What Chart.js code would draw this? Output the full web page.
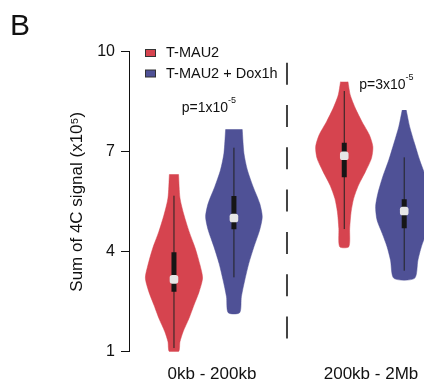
<!DOCTYPE html>
<html>
<head>
<meta charset="utf-8">
<script src="https://cdn.jsdelivr.net/npm/chart.js@4"></script>
<style>
  html, body { margin: 0; padding: 0; background: #fff; }
</style>
</head>
<body>
<canvas id="chart1" width="424" height="387"></canvas>
<script>
// ---------------- data ----------------
var categories = ['0kb - 200kb', '200kb - 2Mb'];
var seriesNames = ['T-MAU2', 'T-MAU2 + Dox1h'];
var yTicks = [1, 4, 7, 10];

// violin outlines: levels (x10^5) and relative density width at each level
var ctrlLevels0 = [6.32, 5.61, 5.10, 4.60, 4.11, 3.60, 3.21, 2.80, 2.40, 2.01, 1.60, 1.30, 1.00];
var ctrlDensity0 = [0.16, 0.21, 0.35, 0.53, 0.74, 0.91, 1.00, 0.88, 0.70, 0.53, 0.32, 0.21, 0.16];
var doxLevels0 = [7.67, 6.95, 6.45, 5.95, 5.45, 5.05, 4.65, 4.15, 3.65, 3.15, 2.65, 2.17];
var doxDensity0 = [0.29, 0.35, 0.47, 0.67, 0.90, 0.99, 0.90, 0.70, 0.52, 0.38, 0.26, 0.20];
var ctrlLevels1 = [9.10, 8.70, 8.30, 7.90, 7.50, 7.15, 6.80, 6.40, 6.00, 5.60, 5.20, 4.70, 4.15];
var ctrlDensity1 = [0.13, 0.21, 0.39, 0.62, 0.88, 1.00, 0.95, 0.74, 0.50, 0.33, 0.24, 0.19, 0.16];
var doxLevels1 = [8.25, 7.75, 7.25, 6.75, 6.25, 5.75, 5.35, 4.95, 4.55, 4.15, 3.75, 3.20];
var doxDensity1 = [0.07, 0.19, 0.36, 0.54, 0.75, 0.92, 1.00, 0.95, 0.77, 0.60, 0.48, 0.36];

// box plot stats, one value per category
var ctrlMedian = [3.17, 6.88];
var ctrlQ1 = [2.80, 6.23];
var ctrlQ3 = [3.98, 7.27];
var ctrlWhiskLo = [1.11, 4.68];
var ctrlWhiskHi = [5.68, 8.82];
var doxMedian = [5.01, 5.22];
var doxQ1 = [4.67, 4.70];
var doxQ3 = [5.67, 5.57];
var doxWhiskLo = [3.23, 3.43];
var doxWhiskHi = [7.12, 6.83];

var pTexts = ['p=1x10', 'p=3x10'];
var pExps = ['-5', '-5'];

// ---------------- layout / style ----------------
var RED = '#D6444F';
var BLUE = '#4F5196';
var HALF_W = 0.477;
var ctrlPos = [1, 3.84];
var doxPos = [2, 4.84];
var labelPos = [1.634, 4.286];
var dividerX = 2.885;
var pPos = [{x: 1.13, y: 8.3}, {x: 4.09, y: 9.0}];
var FONT = "'Liberation Sans', Arial, sans-serif";

Chart.defaults.font.family = FONT;
Chart.defaults.color = '#111';

function violinPoints(pos, levels, dens) {
  var right = levels.map(function (v, i) { return {x: pos + dens[i] * HALF_W, y: v}; });
  var left = levels.map(function (v, i) { return {x: pos - dens[i] * HALF_W, y: v}; }).reverse();
  return right.concat(left);
}

function violin(pos, levels, dens, color) {
  return {
    data: violinPoints(pos, levels, dens),
    borderColor: color, backgroundColor: color, borderWidth: 0.5,
    fill: 'shape', tension: 0.25, pointRadius: 0, order: 4
  };
}

function seg(x, y0, y1, width, color, order) {
  return {
    data: [{x: x, y: y0}, {x: x, y: y1}],
    borderColor: color, borderWidth: width, borderCapStyle: 'butt',
    pointRadius: 0, fill: false, order: order
  };
}

var datasets = [];
// dashed divider
datasets.push({
  data: [{x: dividerX, y: 10}, {x: dividerX, y: 0.93}],
  borderColor: '#444', borderWidth: 2, borderDash: [22, 20.3], borderDashOffset: 31.3,
  pointRadius: 0, fill: false, clip: false, order: 5
});
datasets.push(violin(ctrlPos[0], ctrlLevels0, ctrlDensity0, RED));
datasets.push(violin(doxPos[0], doxLevels0, doxDensity0, BLUE));
datasets.push(violin(ctrlPos[1], ctrlLevels1, ctrlDensity1, RED));
datasets.push(violin(doxPos[1], doxLevels1, doxDensity1, BLUE));
for (var i = 0; i < categories.length; i++) {
  datasets.push(seg(ctrlPos[i], ctrlWhiskLo[i], ctrlWhiskHi[i], 1, '#222', 3));
  datasets.push(seg(doxPos[i], doxWhiskLo[i], doxWhiskHi[i], 1, '#222', 3));
  datasets.push(seg(ctrlPos[i], ctrlQ1[i], ctrlQ3[i], 5, '#161616', 2));
  datasets.push(seg(doxPos[i], doxQ1[i], doxQ3[i], 5, '#161616', 2));
}
// medians
datasets.push({
  data: ctrlPos.map(function (p, i) { return {x: p, y: ctrlMedian[i]}; })
    .concat(doxPos.map(function (p, i) { return {x: p, y: doxMedian[i]}; })),
  showLine: false, pointStyle: 'rectRounded', pointRadius: 5,
  pointBackgroundColor: '#e6e6e6', pointBorderWidth: 0, order: 1
});

// legend, panel letter and p-values
var annotations = {
  id: 'annotations',
  afterDraw: function (chart) {
    var ctx = chart.ctx;
    var xs = chart.scales.x, ys = chart.scales.y;
    ctx.save();
    ctx.fillStyle = '#111';
    ctx.font = '30px ' + FONT;
    ctx.textBaseline = 'alphabetic';
    ctx.fillText('B', 10, 35);

    var colors = [RED, BLUE];
    ctx.font = '14.5px ' + FONT;
    ctx.textBaseline = 'middle';
    for (var k = 0; k < seriesNames.length; k++) {
      var yy = 53 + k * 20.5;
      ctx.fillStyle = colors[k];
      ctx.fillRect(145.5, yy - 3.5, 10, 7);
      ctx.strokeStyle = '#333';
      ctx.lineWidth = 1;
      ctx.strokeRect(145.5, yy - 3.5, 10, 7);
      ctx.fillStyle = '#111';
      ctx.fillText(seriesNames[k], 166, yy);
    }

    for (var j = 0; j < pTexts.length; j++) {
      var px = xs.getPixelForValue(pPos[j].x);
      var py = ys.getPixelForValue(pPos[j].y);
      ctx.font = '14px ' + FONT;
      ctx.fillText(pTexts[j], px, py);
      var w = ctx.measureText(pTexts[j]).width;
      ctx.font = '9px ' + FONT;
      ctx.fillText(pExps[j], px + w, py - 8);
    }
    ctx.restore();
  }
};

var ctx = document.getElementById('chart1').getContext('2d');
var chart = new Chart(ctx, {
  type: 'line',
  data: { datasets: datasets },
  plugins: [annotations],
  options: {
    responsive: false,
    animation: false,
    events: [],
    devicePixelRatio: 1,
    layout: { autoPadding: false, padding: { top: 51.7, right: 0, bottom: 0, left: 0 } },
    plugins: { legend: { display: false }, tooltip: { enabled: false } },
    scales: {
      x: {
        type: 'linear', min: 0.25, max: 5.17,
        afterFit: function (scale) {
          scale.height = 35.3;
          scale.paddingLeft = 0;
          scale.paddingRight = 0;
        },
        afterBuildTicks: function (scale) {
          scale.ticks = labelPos.map(function (v) { return {value: v}; });
        },
        ticks: {
          autoSkip: false, maxRotation: 0, padding: 12,
          font: { size: 17 }, color: '#111',
          callback: function (value, index) { return categories[index]; }
        },
        grid: { display: false, drawTicks: false },
        border: { display: false }
      },
      y: {
        min: 1, max: 10,
        afterFit: function (scale) {
          scale.width = 129;
          scale.paddingTop = 0;
          scale.paddingBottom = 0;
        },
        afterBuildTicks: function (scale) {
          scale.ticks = yTicks.map(function (v) { return {value: v}; });
        },
        ticks: { padding: 6, font: { size: 16 }, color: '#111' },
        grid: { drawOnChartArea: false, drawTicks: true, tickLength: 8, color: '#111', lineWidth: 1 },
        border: { display: true, color: '#111', width: 1 },
        title: {
          display: true, text: 'Sum of 4C signal (x10\u2075)',
          font: { size: 17 }, color: '#111', padding: { top: 67, bottom: 0 }
        }
      }
    }
  }
});
</script>
</body>
</html>
